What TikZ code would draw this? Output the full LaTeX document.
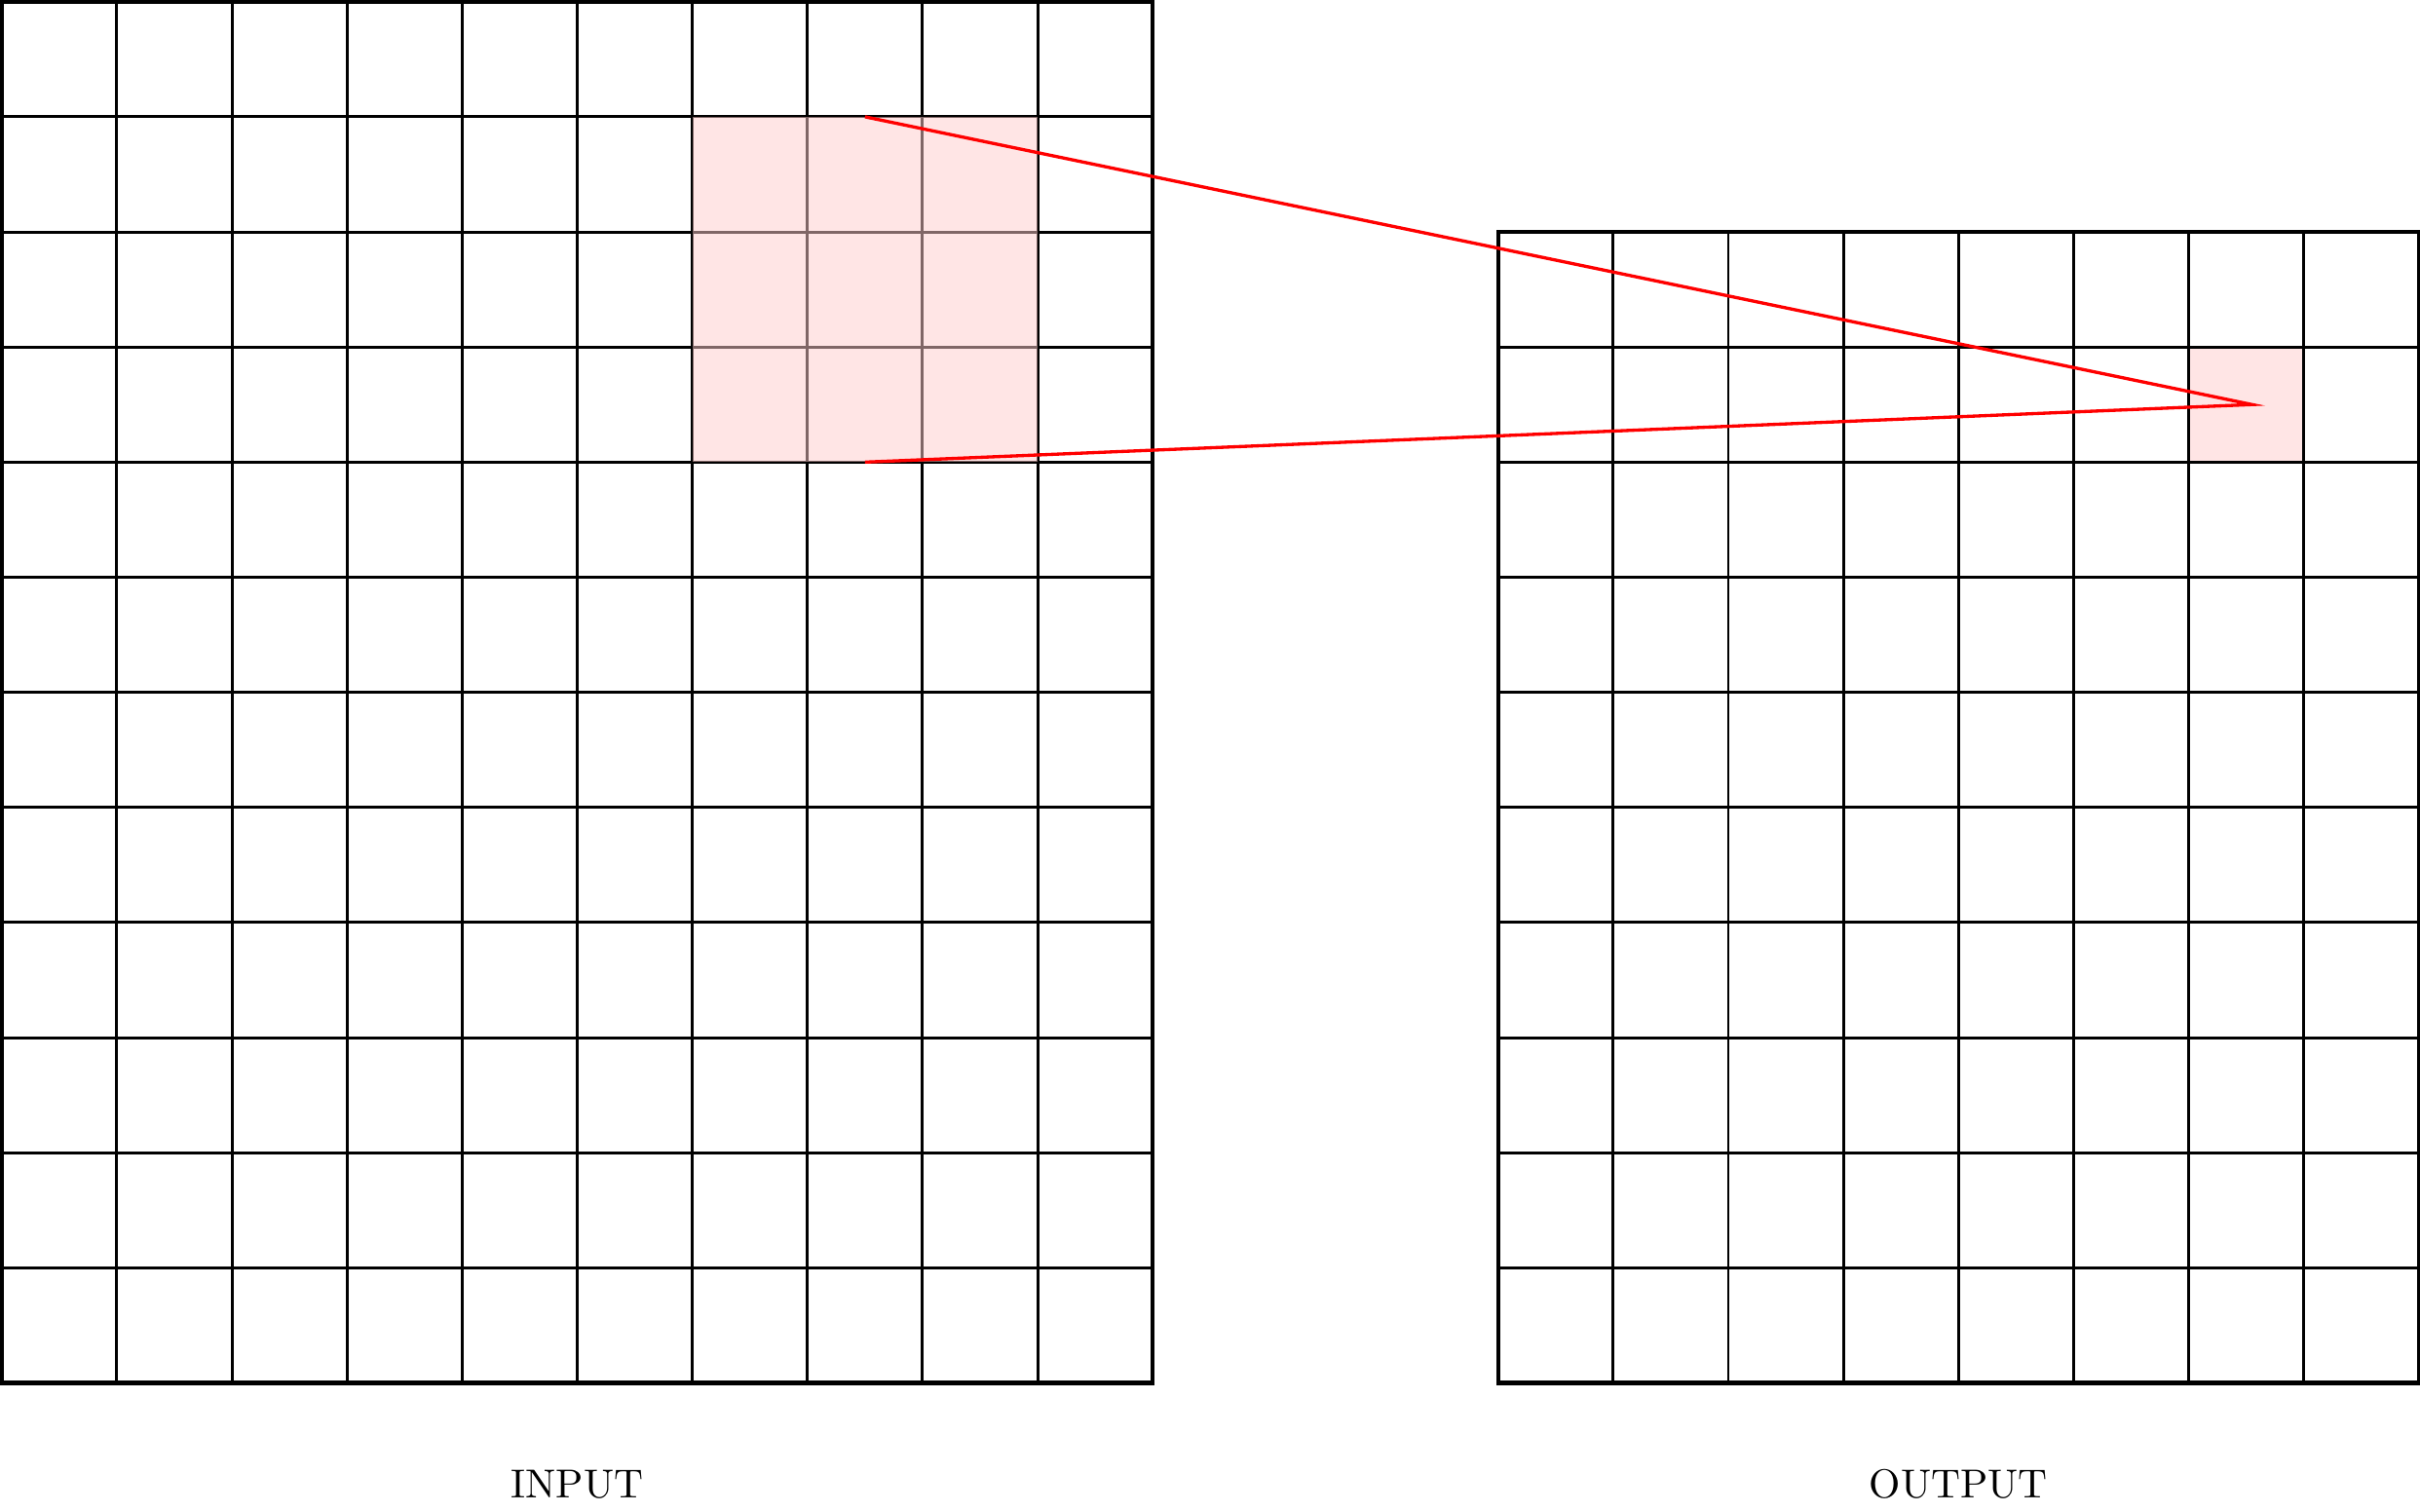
\documentclass[tikz,border=0pt]{standalone}
\usepackage{amsmath}
\usepackage{tikz}
\usetikzlibrary{calc}

\begin{document}
\begin{tikzpicture}[gridline/.style={line width=0.7pt}, frame/.style={line width=1pt}]
\useasboundingbox (-0.015,-1.115) rectangle (21.01,12.015);
% input
\draw[gridline] (0,0) grid (10,12);
\draw[frame] (0,0) rectangle (10,12);
\fill[red!20, fill opacity=0.5] (6,8) rectangle (9,11);
\coordinate (kt) at (7.5,11);
\coordinate (kb) at (7.5,8);
\node (in) at (5,-0.88) {INPUT};

% output
\begin{scope}[xshift=13cm]
\fill[red!10] (6,8) rectangle (7,9);
\draw[gridline] (0,0) grid (8,10);
\draw[frame] (0,0) rectangle (8,10);
\coordinate (px) at (6.55,8.5);
\node (out) at (4,-0.88) {OUTPUT};
\end{scope}

\draw[red, thick] (kt) -- (px) -- (kb);
\end{tikzpicture}
\end{document}
